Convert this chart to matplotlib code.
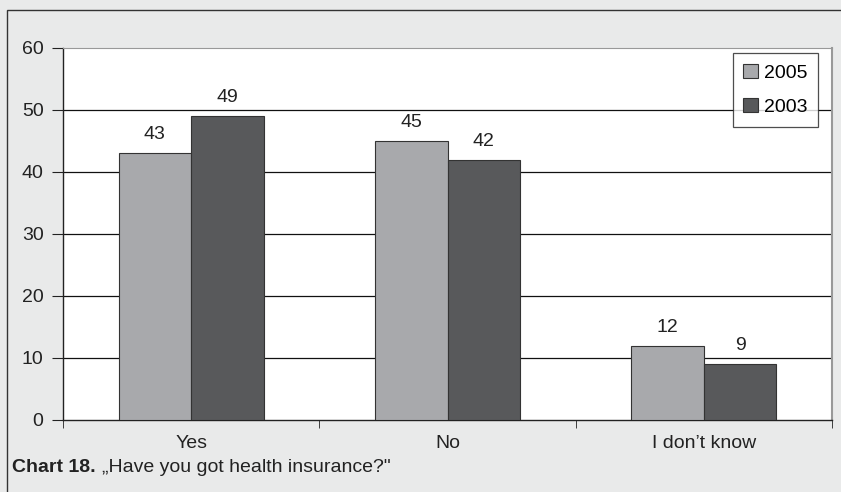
import matplotlib
matplotlib.use("Agg")
import matplotlib.pyplot as plt
from matplotlib.patches import Rectangle
import numpy as np

categories = ["Yes", "No", "I don\u2019t know"]
series_names = ["2005", "2003"]
values_2005 = [43, 45, 12]
values_2003 = [49, 42, 9]
y_ticks = [0, 10, 20, 30, 40, 50, 60]

plt.rcParams['font.family'] = ['Liberation Sans', 'DejaVu Sans']

light = "#a8a9ac"
dark = "#58595b"
bg = "#e9eaea"
ink = "#222222"
fs = 14

fig = plt.figure(figsize=(8.41, 4.92), dpi=100)
fig.patch.set_facecolor(bg)

# frame around the whole panel (runs off the right and bottom edges)
fig.add_artist(Rectangle((7 / 841, -0.1), 1.2, 1 - 10 / 492 + 0.1,
                         transform=fig.transFigure, fill=False,
                         edgecolor="#333333", linewidth=1.0))

ax = fig.add_axes([63 / 841, 1 - 420 / 492, (832 - 63) / 841, (420 - 48) / 492])
ax.set_facecolor("white")

x = np.arange(len(categories))
w = 0.283
b1 = ax.bar(x - w / 2, values_2005, w, color=light, edgecolor="#333333", linewidth=0.8,
            label=series_names[0], zorder=3)
b2 = ax.bar(x + w / 2, values_2003, w, color=dark, edgecolor="#333333", linewidth=0.8,
            label=series_names[1], zorder=3)

for bars, vals in ((b1, values_2005), (b2, values_2003)):
    for r, v in zip(bars, vals):
        ax.text(r.get_x() + r.get_width() / 2, v + 1.6, str(v), ha="center", va="bottom",
                fontsize=fs, color=ink)

ax.set_xlim(-0.5, len(categories) - 0.5)
ax.set_ylim(0, 60)
ax.set_yticks(y_ticks)
ax.set_yticklabels([str(t) for t in y_ticks], fontsize=fs, color=ink)
for t in y_ticks[1:-1]:
    ax.axhline(t, color="#111111", linewidth=0.9, zorder=1)

ax.set_xticks(x)
ax.set_xticklabels(categories, fontsize=fs, color=ink)
ax.tick_params(axis="x", length=0, pad=11)
ax.set_xticks(np.arange(len(categories) + 1) - 0.5, minor=True)
ax.tick_params(axis="x", which="minor", length=6, direction="out", color=ink)
ax.tick_params(axis="y", length=8, direction="out", color=ink, pad=6)

for side in ("left", "bottom"):
    ax.spines[side].set_color(ink)
    ax.spines[side].set_linewidth(1.0)
ax.spines["top"].set_color("#999999")
ax.spines["right"].set_color("#999999")
ax.spines["right"].set_linewidth(1.5)

leg = ax.legend(loc="upper right", bbox_to_anchor=((818 - 63) / 769, (420 - 53) / 372),
                borderaxespad=0, fontsize=fs, frameon=True, fancybox=False,
                edgecolor=ink, handlelength=0.75, handleheight=0.75, handletextpad=0.3,
                labelspacing=0.85, borderpad=0.55)
leg.get_frame().set_linewidth(0.9)
leg.set_zorder(5)

ty = 1 - 467 / 492
t1 = fig.text(12 / 841, ty, "Chart 18.", fontsize=fs, fontweight="bold",
              color=ink, va="center", ha="left")
fig.canvas.draw()
x1 = t1.get_window_extent().x1 / fig.bbox.width
fig.text(x1 + 6 / 841, ty, "\u201eHave you got health insurance?\"", fontsize=fs,
         color=ink, va="center", ha="left")

fig.savefig("out.png", dpi=100, facecolor=bg)
